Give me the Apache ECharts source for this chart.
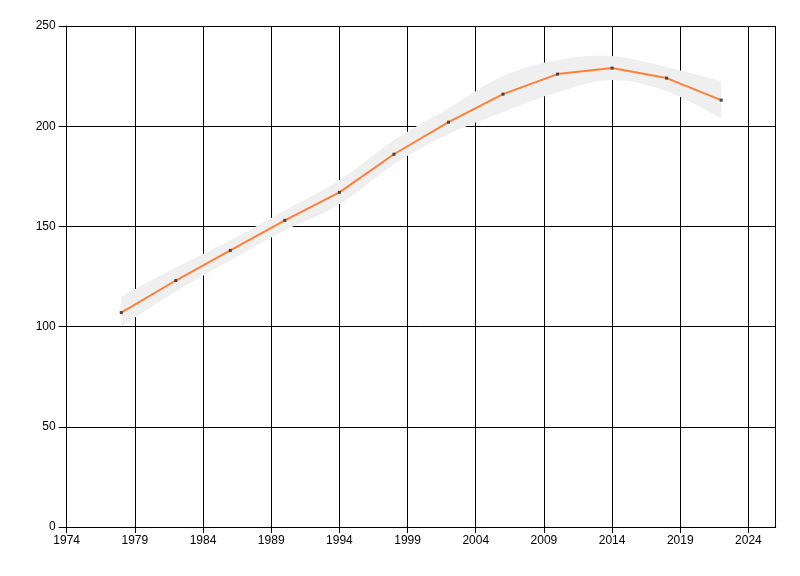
<!DOCTYPE html>
<html>
<head>
<meta charset="utf-8">
<script src="https://cdn.jsdelivr.net/npm/echarts@6/dist/echarts.min.js"></script>
<style>html,body{margin:0;padding:0;background:#fff;}#c{width:800px;height:576px;}</style>
</head>
<body>
<div id="c"></div>
<script>
const years = [1978, 1982, 1986, 1990, 1994, 1998, 2002, 2006, 2010, 2014, 2018, 2022];
const values = [107, 123, 138, 153, 167, 186, 202, 216, 226, 229, 224, 213];
const bandLower = [100, 117.5, 133, 148, 161, 181, 196, 207, 217, 223, 217.5, 204];
const bandUpper = [115, 129.5, 143, 158, 173, 193, 209, 225, 233, 235, 229.5, 222.5];
const xMin = 1974, xMax = 2026, xStep = 5;
const yMin = 0, yMax = 250, yStep = 50;

function catmull(pts, steps) {
  const out = [];
  for (let i = 0; i < pts.length - 1; i++) {
    const p0 = pts[Math.max(i - 1, 0)], p1 = pts[i], p2 = pts[i + 1], p3 = pts[Math.min(i + 2, pts.length - 1)];
    for (let s = 0; s < steps; s++) {
      const t = s / steps, t2 = t * t, t3 = t2 * t;
      const f = k => 0.5 * ((2 * p1[k]) + (-p0[k] + p2[k]) * t + (2 * p0[k] - 5 * p1[k] + 4 * p2[k] - p3[k]) * t2 + (-p0[k] + 3 * p1[k] - 3 * p2[k] + p3[k]) * t3);
      out.push([f(0), f(1)]);
    }
  }
  out.push(pts[pts.length - 1]);
  return out;
}

const chart = echarts.init(document.getElementById('c'), null, {renderer: 'canvas'});
const font = 'Liberation Sans, Arial, sans-serif';
const bandData = years.map((y, i) => [y, bandLower[i], bandUpper[i]]);
chart.setOption({
  animation: false,
  backgroundColor: '#ffffff',
  grid: {left: 66.7, right: 24.3, top: 26, bottom: 49, containLabel: false},
  xAxis: {
    type: 'value', min: xMin, max: xMax, interval: xStep,
    axisLine: {show: true, lineStyle: {color: '#000', width: 1}},
    axisTick: {show: true, length: 6, lineStyle: {color: '#000'}},
    axisLabel: {color: '#000', fontFamily: font, fontSize: 12, margin: 8, showMaxLabel: false,
      formatter: v => String(v)},
    splitLine: {show: true, lineStyle: {color: '#000', width: 1}}
  },
  yAxis: {
    type: 'value', min: yMin, max: yMax, interval: yStep,
    axisLine: {show: true, lineStyle: {color: '#000', width: 1}},
    axisTick: {show: true, length: 8, lineStyle: {color: '#000'}},
    axisLabel: {color: '#000', fontFamily: font, fontSize: 12, margin: 11},
    splitLine: {show: true, lineStyle: {color: '#000', width: 1}}
  },
  series: [
    {
      type: 'custom', silent: true, z: 2,
      data: bandData,
      encode: {x: 0, y: [1, 2]},
      renderItem: function (params, api) {
        if (params.dataIndex !== 0) return null;
        const top = catmull(bandData.map(d => api.coord([d[0], d[2]])), 12);
        const bot = catmull(bandData.map(d => api.coord([d[0], d[1]])), 12).reverse();
        return {
          type: 'polygon',
          shape: {points: top.concat(bot)},
          style: {fill: '#efefef', stroke: null}
        };
      }
    },
    {
      type: 'line', smooth: false,
      data: years.map((y, i) => [y, values[i]]),
      symbol: 'rect', symbolSize: 3,
      itemStyle: {color: '#444444'},
      lineStyle: {color: '#ff7f3a', width: 2}, z: 5
    }
  ]
});
</script>
</body>
</html>
